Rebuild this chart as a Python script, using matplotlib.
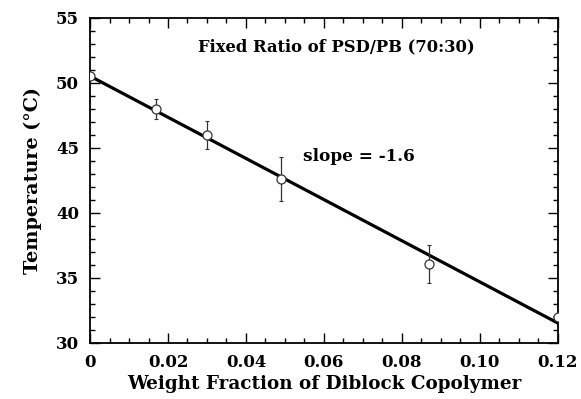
import numpy as np
import matplotlib
matplotlib.use("Agg")
import matplotlib.pyplot as plt
from matplotlib.ticker import MultipleLocator

# Cloud-point temperature vs. diblock copolymer content
weight_fraction = [0.0, 0.017, 0.030, 0.049, 0.087, 0.120]
temperature = [50.5, 48.0, 46.0, 42.6, 36.1, 32.0]
temp_err = [0.0, 0.8, 1.1, 1.7, 1.45, 0.0]

x_ticks = [0, 0.02, 0.04, 0.06, 0.08, 0.10, 0.12]
x_tick_labels = ["0", "0.02", "0.04", "0.06", "0.08", "0.10", "0.12"]
y_ticks = [30, 35, 40, 45, 50, 55]

slope, intercept = np.polyfit(weight_fraction, temperature, 1)

plt.rcParams["font.family"] = ["DejaVu Serif"]
plt.rcParams["font.weight"] = "bold"

fig = plt.figure(figsize=(5.81, 3.99), dpi=100)
ax = fig.add_axes([0.155, 0.1404, 0.805, 0.8146])

fit_x = np.array([0.0, 0.12])
ax.plot(fit_x, slope * fit_x + intercept, color="black", lw=2.3, zorder=2)

ax.errorbar(weight_fraction, temperature, yerr=temp_err, fmt="none",
            ecolor="#333333", elinewidth=0.9, capsize=1.2, capthick=0.8, zorder=3)
ax.plot(weight_fraction, temperature, "o", ms=6.5, mfc="white", mec="#333333",
        mew=0.9, zorder=4)

ax.set_xlim(0, 0.12)
ax.set_ylim(30, 55)
ax.set_xticks(x_ticks)
ax.set_xticklabels(x_tick_labels)
ax.set_yticks(y_ticks)
ax.xaxis.set_minor_locator(MultipleLocator(0.005))
ax.yaxis.set_minor_locator(MultipleLocator(1))
ax.tick_params(which="both", direction="in", top=True, right=True, width=1.0)
ax.tick_params(axis="x", which="major", labelsize=12, pad=8)
ax.tick_params(axis="y", which="major", labelsize=12, pad=8)
ax.tick_params(which="major", length=7)
ax.tick_params(which="minor", length=3.5)
for lab in ax.get_xticklabels() + ax.get_yticklabels():
    lab.set_fontweight("bold")
for s in ax.spines.values():
    s.set_linewidth(1.3)

ax.set_xlabel("Weight Fraction of Diblock Copolymer", fontsize=13.2,
              fontweight="bold", labelpad=3)
ax.set_ylabel("Temperature (°C)", fontsize=13.8, fontweight="bold", labelpad=10)

ax.text(0.526, 0.912, "Fixed Ratio of PSD/PB (70:30)", transform=ax.transAxes,
        ha="center", va="center", fontsize=11.8, fontweight="bold")
ax.text(0.456, 0.574, f"slope = {slope * 0.01:.1f}", transform=ax.transAxes,
        ha="left", va="center", fontsize=12.2, fontweight="bold")

fig.savefig("out.png", dpi=100, facecolor="white")
